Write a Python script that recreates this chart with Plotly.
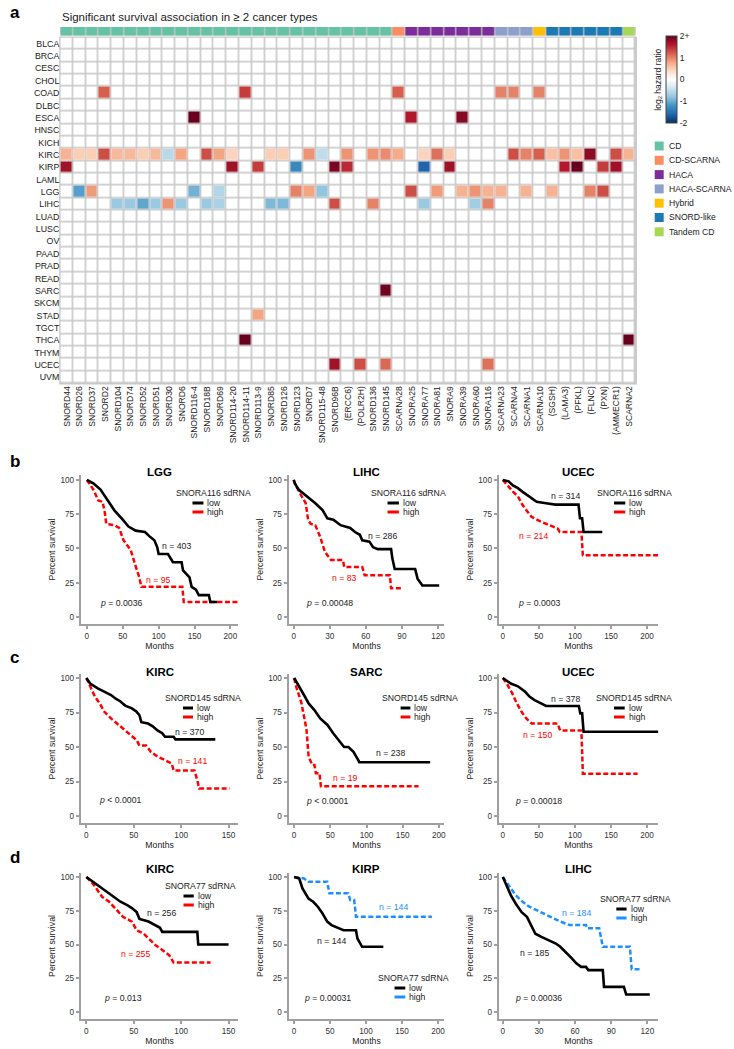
import plotly.graph_objects as go

W, H = 734, 1049
FONT = "Liberation Sans, Arial, sans-serif"
RED = "#ff0000"
BLUE = "#1e8fff"

# ---------------- heatmap data ----------------
cancers = ["BLCA", "BRCA", "CESC", "CHOL", "COAD", "DLBC", "ESCA", "HNSC", "KICH", "KIRC",
           "KIRP", "LAML", "LGG", "LIHC", "LUAD", "LUSC", "OV", "PAAD", "PRAD", "READ",
           "SARC", "SKCM", "STAD", "TGCT", "THCA", "THYM", "UCEC", "UVM"]
genes = ["SNORD44", "SNORD26", "SNORD37", "SNORD2", "SNORD104", "SNORD74", "SNORD52", "SNORD51",
         "SNORD30", "SNORD6", "SNORD116-4", "SNORD18B", "SNORD69", "SNORD114-20", "SNORD114-11",
         "SNORD113-9", "SNORD85", "SNORD126", "SNORD123", "SNORD7", "SNORD115-48", "SNORD96B",
         "(ERCC6)", "(POLR2H)", "SNORD136", "SNORD145", "SCARNA28", "SNORA25", "SNORA77", "SNORA81",
         "SNORA9", "SNORA39", "SNORA60", "SNORA116", "SCARNA23", "SCARNA4", "SCARNA1", "SCARNA10",
         "(SGSH)", "(LAMA3)", "(PFKL)", "(FLNC)", "(PXN)", "(AMMECR1)", "SCARNA2"]
gene_class = ["CD", "CD", "CD", "CD", "CD", "CD", "CD", "CD", "CD", "CD", "CD", "CD", "CD", "CD",
              "CD", "CD", "CD", "CD", "CD", "CD", "CD", "CD", "CD", "CD", "CD", "CD",
              "CD-SCARNA", "HACA", "HACA", "HACA", "HACA", "HACA", "HACA", "HACA",
              "HACA-SCARNA", "HACA-SCARNA", "HACA-SCARNA", "Hybrid",
              "SNORD-like", "SNORD-like", "SNORD-like", "SNORD-like", "SNORD-like", "SNORD-like",
              "Tandem CD"]
class_names = ["CD", "CD-SCARNA", "HACA", "HACA-SCARNA", "Hybrid", "SNORD-like", "Tandem CD"]
class_colors = ["#66c2a5", "#fc8d62", "#7d2c9c", "#8da0cb", "#ffc000", "#1b7ab3", "#a6d854"]

hit_cancer = (["COAD"] * 6 + ["ESCA"] * 3 + ["KIRC"] * 33 + ["KIRP"] * 12 + ["LGG"] * 17 +
              ["LIHC"] * 15 + ["SARC", "STAD", "THCA", "THCA"] + ["UCEC"] * 4)
hit_gene = [
    # COAD
    "SNORD2", "SNORD114-11", "SCARNA28", "SCARNA23", "SCARNA4", "SCARNA10",
    # ESCA
    "SNORD116-4", "SNORA25", "SNORA39",
    # KIRC
    "SNORD44", "SNORD26", "SNORD37", "SNORD2", "SNORD104", "SNORD74", "SNORD52", "SNORD51",
    "SNORD30", "SNORD6", "SNORD18B", "SNORD69", "SNORD114-20", "SNORD85", "SNORD126", "SNORD7",
    "SNORD115-48", "(ERCC6)", "SNORD136", "SNORD145", "SCARNA28", "SNORA77", "SNORA81", "SNORA9",
    "SCARNA4", "SCARNA1", "SCARNA10", "(SGSH)", "(LAMA3)", "(PFKL)", "(FLNC)", "(AMMECR1)", "SCARNA2",
    # KIRP
    "SNORD44", "SNORD114-20", "SNORD113-9", "SNORD123", "SNORD96B", "(ERCC6)", "SNORA77", "SNORA9",
    "(LAMA3)", "(PFKL)", "(PXN)", "(AMMECR1)",
    # LGG
    "SNORD26", "SNORD37", "SNORD116-4", "SNORD69", "SNORD123", "SNORD7", "SNORD115-48", "SNORA25",
    "SNORA81", "SNORA39", "SNORA60", "SNORA116", "SCARNA23", "SCARNA1", "(SGSH)", "(FLNC)", "(PXN)",
    # LIHC
    "SNORD104", "SNORD74", "SNORD52", "SNORD51", "SNORD30", "SNORD6", "SNORD18B", "SNORD69",
    "SNORD85", "SNORD126", "SNORD96B", "SNORD136", "SNORA77", "SNORA60", "SNORA116",
    # SARC, STAD, THCA
    "SNORD145", "SNORD113-9", "SNORD114-11", "SCARNA2",
    # UCEC
    "SNORD96B", "(POLR2H)", "SNORD145", "SNORA116"]
hit_log2hr = [
    1.2, 1.4, 1.2, 1.0, 1.0, 1.0,
    2.0, 1.6, 1.85,
    0.7, 0.5, 0.5, 1.3, 0.65, 0.65, 0.5, 0.65, -0.55, 0.8, 1.3, 0.8, 0.45, 0.5, 0.5, 0.9,
    -0.5, 0.9, 0.9, 0.95, 0.75, 0.45, 1.1, 0.5, 1.3, 1.0, 1.2, 0.6, 0.9, 0.6, 1.8, 1.3, 0.7,
    1.7, 1.7, 1.4, -1.3, 1.9, 1.5, -1.6, 1.7, 1.6, 2.0, 1.4, 1.7,
    -1.1, 0.85, -0.95, -0.6, 1.0, 0.8, -0.8, 1.3, 0.85, 0.7, 0.9, 0.7, 0.7, 0.7, 0.7, 1.0, 1.3,
    -0.75, -0.75, -1.05, -0.75, 0.9, -0.75, -0.75, -0.65, -0.9, -0.9, 1.3, 1.0, -0.75, -0.7, 1.0,
    1.95, 0.8, 2.0, 2.0,
    1.7, 1.3, 1.15, 1.1]

# ---------------- Kaplan-Meier data (months, percent survival) ----------------
b1_low_t = [0, 9, 19, 29, 38, 50, 58, 68, 81, 87, 94, 98, 100, 113, 117, 120, 132, 134, 143, 146, 152, 156, 170, 172, 182]
b1_low_s = [100, 97.5, 93, 85, 78, 71, 66, 63, 62, 59, 56, 51, 46, 46, 43, 40, 40, 34, 29, 22, 20, 16, 16, 11, 11]
b1_high_t = [0, 9, 16, 22, 25, 27, 38, 45, 51, 58, 61, 68, 73, 76, 133, 135, 211]
b1_high_s = [100, 93, 85, 84, 76, 68, 67, 65, 56, 51, 49, 37, 29, 22, 22, 11, 11]

b2_low_t = [0, 1, 4, 10, 18, 24, 28, 33, 39, 47, 51, 55, 57, 63, 66, 70, 81, 82, 84, 101, 103, 107, 121]
b2_low_s = [100, 97.5, 93, 89, 83, 78, 72, 71, 67, 65, 62, 60, 56, 55, 51, 49.5, 49.5, 43, 35, 35, 28, 23, 23]
b2_high_t = [0, 1, 6, 10, 12, 14, 18, 22, 26, 30, 31, 41, 42, 57, 59, 80, 81, 91]
b2_high_s = [100, 97.5, 89, 83, 71, 68, 67, 58.5, 47.5, 43, 41.5, 41.5, 36.5, 36.5, 30.5, 30.5, 21, 21]

b3_low_t = [0, 8, 14, 21, 27, 34, 40, 47, 60, 73, 105, 107, 110, 112, 138]
b3_low_s = [100, 99, 96, 94, 91.5, 89, 86.5, 84, 83, 82, 82, 72, 72, 62, 62]
b3_high_t = [0, 8, 14, 21, 27, 34, 40, 53, 66, 76, 79, 109, 111, 216]
b3_high_s = [100, 95, 91.5, 88, 82, 77, 73, 69.5, 67, 64.6, 62, 62, 45, 45]

c1_low_t = [0, 4, 12, 19, 26, 31, 36, 41, 48, 53, 56, 58, 65, 70, 75, 80, 83, 92, 94, 136]
c1_low_s = [100, 96, 92.5, 90, 87.7, 85, 83, 80, 78, 75.5, 73, 68, 67, 65, 62, 60, 57.4, 57.4, 55.5, 55.5]
c1_high_t = [0, 4, 9, 14, 19, 26, 34, 41, 46, 53, 56, 63, 68, 75, 83, 90, 92, 114, 117, 119, 151]
c1_high_s = [100, 94, 86.5, 81.6, 75.5, 70.7, 66, 62, 58.6, 55, 51, 51, 46.5, 43, 40.5, 38, 33, 33, 25.8, 20, 20]

c2_low_t = [0, 7, 13.6, 20, 28, 36, 46, 54, 62, 69, 75, 82, 88, 90, 188]
c2_low_s = [100, 94, 87.7, 81.6, 76.8, 70.7, 66, 60, 55, 50, 50, 46.5, 41, 39, 39]
c2_high_t = [0, 2, 10, 17, 20, 25, 28, 30, 35, 37, 172]
c2_high_s = [100, 95, 82, 63, 43, 37, 37, 31, 31, 21.5, 21.5]

c3_low_t = [0, 11, 21, 31, 37, 44, 53, 60, 105.5, 107.5, 110, 112, 216]
c3_low_s = [100, 96, 94, 90, 86.5, 84, 81.6, 79.7, 79.7, 74.4, 74.4, 61, 61]
c3_high_t = [0, 6.5, 13, 19.5, 26, 32.6, 40, 76, 79.5, 109, 111, 187]
c3_high_s = [100, 95, 89, 81.6, 75.5, 70.7, 67, 67, 62, 62, 30.7, 30.7]

d1_low_t = [0, 7, 14, 21.5, 29, 36, 43.5, 48, 53, 56, 65.5, 73, 77.7, 80, 117, 118, 150]
d1_low_s = [100, 96.5, 93, 89, 85.4, 81.7, 79, 77, 74, 69, 67, 64.4, 62.4, 59.4, 59.4, 50, 50]
d1_high_t = [0, 7, 12, 16.6, 24, 29, 33.7, 38.6, 48, 53, 60.6, 68, 73, 80, 87.4, 92, 131]
d1_high_s = [100, 95, 90, 85.4, 81.7, 78, 74, 70.5, 67, 60.6, 58, 53, 49.5, 46, 42, 36.6, 36.6]

d2_low_t = [0, 7, 11.6, 20, 26.5, 33, 39.5, 46, 52, 68.6, 86, 88, 94.5, 124]
d2_low_s = [100, 99, 91.6, 84, 81.7, 78, 73, 67, 64.4, 60.6, 60.6, 54.5, 48.3, 48.3]
d2_high_t = [0, 13.6, 20, 46, 49, 75, 78, 83.5, 86, 191.5]
d2_high_s = [100, 99, 96.5, 96.5, 88, 88, 83, 83, 70.5, 70.5]

d3_low_t = [0, 2.7, 6.6, 10.6, 15.6, 20, 23.5, 27, 32, 38, 44, 47.7, 53.6, 57.5, 61, 65, 69, 71, 83, 84, 100.5, 102.4, 122]
d3_low_s = [100, 94, 86.6, 80.4, 74, 70.5, 64.4, 58, 55.7, 53, 50.7, 48.3, 43.3, 39.6, 36, 33.4, 33.4, 31, 31, 18.6, 18.6, 13, 13]
d3_high_t = [0, 2.7, 6.6, 10.6, 16.4, 22, 28, 34, 40, 47.7, 55.5, 69, 70, 80, 83, 105.5, 107, 114]
d3_high_s = [100, 96.5, 91.6, 86.6, 81.7, 78, 75.5, 73, 70.5, 67, 64.4, 64.4, 62, 62, 48.3, 48.3, 31.7, 31.7]

n_low = ["n = 403", "n = 286", "n = 314", "n = 370", "n = 238", "n = 378", "n = 256", "n = 144", "n = 185"]
n_high = ["n = 95", "n = 83", "n = 214", "n = 141", "n = 19", "n = 150", "n = 255", "n = 144", "n = 184"]
p_text = ["= 0.0036", "= 0.00048", "= 0.0003", "< 0.0001", "< 0.0001", "= 0.00018", "= 0.013", "= 0.00031", "= 0.00036"]
panel_titles = ["LGG", "LIHC", "UCEC", "KIRC", "SARC", "UCEC", "KIRC", "KIRP", "LIHC"]
legend_titles = ["SNORA116 sdRNA"] * 3 + ["SNORD145 sdRNA"] * 3 + ["SNORA77 sdRNA"] * 3


def px(x):
    return x / W


def py(y):
    return 1 - y / H


fig = go.Figure()
annotations = []
shapes = []
layout = {}

# ---------------- heatmap ----------------
z = [[None] * len(genes) for _ in cancers]
for c, g, v in zip(hit_cancer, hit_gene, hit_log2hr):
    z[cancers.index(c)][genes.index(g)] = v
gx = list(range(len(genes)))
gy = list(range(len(cancers)))
rdbu = [[0, "#053061"], [0.1, "#2166ac"], [0.2, "#4393c3"], [0.3, "#92c5de"], [0.4, "#d1e5f0"],
        [0.5, "#ffffff"], [0.6, "#fddbc7"], [0.7, "#f4a582"], [0.8, "#d6604d"], [0.9, "#b2182b"],
        [1, "#67001f"]]
fig.add_trace(go.Heatmap(x=gx, y=gy, z=[[0] * len(genes) for _ in cancers],
                         colorscale=[[0, "white"], [1, "white"]], showscale=False,
                         xgap=1.6, ygap=1.6, hoverinfo="skip", xaxis="x", yaxis="y"))
fig.add_trace(go.Heatmap(
    x=gx, y=gy, z=z, zmin=-2, zmax=2, colorscale=rdbu, xgap=1.6, ygap=1.6,
    xaxis="x", yaxis="y", hoverongaps=False,
    colorbar=dict(x=px(668), xanchor="left", y=py(79.5), yanchor="middle",
                  len=87, lenmode="pixels", thickness=11, thicknessmode="pixels",
                  tickvals=[-2, -1, 0, 1, 2], ticktext=["-2", "-1", "0", "1", "2+"],
                  tickfont=dict(size=8.5, family=FONT, color="#222"), ticks="",
                  outlinewidth=1, outlinecolor="#444", xpad=0, ypad=0)))
fig.add_trace(go.Heatmap(
    x=gx, y=[0], z=[[class_names.index(c) for c in gene_class]], zmin=0, zmax=len(class_names) - 1,
    colorscale=[[i / (len(class_names) - 1), col] for i, col in enumerate(class_colors)],
    showscale=False, xgap=1.2, ygap=0, hoverinfo="skip", xaxis="x2", yaxis="y2"))

hm_x = [px(60.5), px(637.5)]
layout["xaxis"] = dict(domain=hm_x, range=[-0.5, len(genes) - 0.5], tickvals=gx, ticktext=genes,
                       tickangle=-90, tickfont=dict(size=8.6, family=FONT, color="#222"),
                       showgrid=False, zeroline=False, showline=False, ticks="", anchor="y")
layout["yaxis"] = dict(domain=[py(383.5), py(37.5)], range=[len(cancers) - 0.5, -0.5], tickvals=gy,
                       ticktext=cancers, tickfont=dict(size=8.8, family=FONT, color="#222"),
                       showgrid=False, zeroline=False, showline=False, ticks="", anchor="x")
layout["xaxis2"] = dict(domain=hm_x, range=[-0.5, len(genes) - 0.5], showticklabels=False,
                        showgrid=False, zeroline=False, showline=False, ticks="", anchor="y2")
layout["yaxis2"] = dict(domain=[py(35.5), py(27)], range=[-0.5, 0.5], showticklabels=False,
                        showgrid=False, zeroline=False, showline=False, ticks="", anchor="x2")
shapes.append(dict(type="rect", xref="x domain", yref="y domain", x0=-0.002, x1=1.002, y0=-0.003,
                   y1=1.003, fillcolor="#c8c8c8", line=dict(width=0), layer="below"))
shapes.append(dict(type="rect", xref="x2 domain", yref="y2 domain", x0=0, x1=1, y0=0, y1=1,
                   fillcolor="#c8c8c8", line=dict(width=0), layer="below"))

annotations.append(dict(x=px(60), y=py(17), xref="paper", yref="paper", xanchor="left",
                        yanchor="middle", showarrow=False,
                        text="Significant survival association in \u2265 2 cancer types",
                        font=dict(size=11.5, family=FONT, color="#222")))
annotations.append(dict(x=px(660), y=py(79.5), xref="paper", yref="paper", xanchor="center",
                        yanchor="middle", showarrow=False, textangle=-90,
                        text="log<sub>2</sub> hazard ratio", font=dict(size=8.5, family=FONT, color="#222")))
for i, (nm, col) in enumerate(zip(class_names, class_colors)):
    yc = 146 + i * 14.3
    shapes.append(dict(type="rect", xref="paper", yref="paper", x0=px(656.5), x1=px(665.5),
                       y0=py(yc + 4.5), y1=py(yc - 4.5), fillcolor=col, line=dict(width=0)))
    annotations.append(dict(x=px(668.5), y=py(yc), xref="paper", yref="paper", xanchor="left",
                            yanchor="middle", showarrow=False, text=nm,
                            font=dict(size=8.6, family=FONT, color="#222")))

for letter, (lx, ly) in zip("abcd", [(8, 12), (8, 462), (8, 657), (8, 857)]):
    annotations.append(dict(x=px(lx), y=py(ly), xref="paper", yref="paper", xanchor="left",
                            yanchor="middle", showarrow=False, text="<b>%s</b>" % letter,
                            font=dict(size=17, family=FONT, color="black")))

# ---------------- KM panels ----------------
curves = [(b1_low_t, b1_low_s, b1_high_t, b1_high_s), (b2_low_t, b2_low_s, b2_high_t, b2_high_s),
          (b3_low_t, b3_low_s, b3_high_t, b3_high_s), (c1_low_t, c1_low_s, c1_high_t, c1_high_s),
          (c2_low_t, c2_low_s, c2_high_t, c2_high_s), (c3_low_t, c3_low_s, c3_high_t, c3_high_s),
          (d1_low_t, d1_low_s, d1_high_t, d1_high_s), (d2_low_t, d2_low_s, d2_high_t, d2_high_s),
          (d3_low_t, d3_low_s, d3_high_t, d3_high_s)]
high_colors = [RED] * 7 + [BLUE, BLUE]

col_dom = [(81, 239), (289.3, 445.7), (500, 660)]
row_dom = [(475, 624), (674, 823), (873, 1019)]
row_yr = [[-5.1, 103.6], [-5.07, 102.9], [-5.2, 103.0]]
row_title_y = [471.5, 672, 869]
x_ranges = [[-8.5, 211.1], [-4.3, 125.4], [-5.8, 215.5], [-5.9, 160.3], [-7.8, 207.8],
            [-5.8, 215.5], [-5.9, 160.3], [-7.8, 209], [-3.5, 129]]
x_ticks = [[0, 50, 100, 150, 200], [0, 30, 60, 90, 120], [0, 50, 100, 150, 200],
           [0, 50, 100, 150], [0, 50, 100, 150, 200], [0, 50, 100, 150, 200],
           [0, 50, 100, 150], [0, 50, 100, 150, 200], [0, 30, 60, 90, 120]]
# legend: title center x, title y, low y, high y, line x0, line x1
legend_pos = [(214, 493, 503, 512, 193, 204), (409.7, 493, 503, 512, 388.6, 400),
              (635.8, 493, 503, 512, 615.7, 627), (203.7, 698, 708, 717, 183.5, 193.5),
              (421.4, 698, 708, 717, 401.7, 411.5), (635.3, 698, 708, 717, 615.7, 626.4),
              (201.3, 886, 896, 905, 184, 194.3), (414.3, 978, 988, 997, 395.6, 406.4),
              (636.8, 899, 909, 918, 618, 628.3)]
# label positions in data units: n low, n high, p
label_pos = [((125, 52), (100, 27), (48, 10)), ((74, 59), (42, 28.5), (30, 10)),
             ((87, 88), (42, 59), (50, 10)), ((109, 61), (112, 40), (36, 11.5)),
             ((133, 45.8), (71, 27.6), (46, 11)), ((87, 85), (48, 59), (50, 11)),
             ((79, 73), (52, 43), (38.6, 10.4)), ((52, 52.5), (138, 77.5), (46, 10.4)),
             ((26, 44), (61, 73), (30, 10.4))]

AX = "#a0a0a0"
TXT = 8.7
for k in range(9):
    r, c = divmod(k, 3)
    n = k + 3
    xa, ya = "x%d" % n, "y%d" % n
    lt, ls, ht, hs = curves[k]
    hc = high_colors[k]
    fig.add_trace(go.Scatter(x=ht, y=hs, mode="lines", xaxis=xa, yaxis=ya, showlegend=False,
                             line=dict(color=hc, width=2.5, dash="5px,2.5px"), hoverinfo="skip"))
    fig.add_trace(go.Scatter(x=lt, y=ls, mode="lines", xaxis=xa, yaxis=ya, showlegend=False,
                             line=dict(color="black", width=2.6), hoverinfo="skip"))
    layout["xaxis%d" % n] = dict(
        domain=[px(col_dom[c][0]), px(col_dom[c][1])], range=x_ranges[k], tickvals=x_ticks[k],
        anchor=ya, showline=True, linecolor=AX, linewidth=2, ticks="outside", ticklen=3,
        tickcolor=AX, tickwidth=1.5, showgrid=False, zeroline=False,
        tickfont=dict(size=8.2, family=FONT, color="#333"),
        title=dict(text="Months", standoff=2, font=dict(size=TXT, family=FONT, color="#222")))
    layout["yaxis%d" % n] = dict(
        domain=[py(row_dom[r][1]), py(row_dom[r][0])], range=row_yr[r], tickvals=[0, 25, 50, 75, 100],
        anchor=xa, showline=True, linecolor=AX, linewidth=2, ticks="outside", ticklen=3,
        tickcolor=AX, tickwidth=1.5, showgrid=False, zeroline=False,
        tickfont=dict(size=8.2, family=FONT, color="#333"),
        title=dict(text="Percent survival", standoff=3, font=dict(size=TXT, family=FONT, color="#222")))
    # panel title
    annotations.append(dict(x=px((col_dom[c][0] + col_dom[c][1]) / 2), y=py(row_title_y[r]),
                            xref="paper", yref="paper", xanchor="center", yanchor="middle",
                            showarrow=False, text="<b>%s</b>" % panel_titles[k],
                            font=dict(size=11.5, family=FONT, color="black")))
    # legend
    tx, tyt, tyl, tyh, lx0, lx1 = legend_pos[k]
    annotations.append(dict(x=px(tx), y=py(tyt), xref="paper", yref="paper", xanchor="center",
                            yanchor="middle", showarrow=False, text=legend_titles[k],
                            font=dict(size=TXT, family=FONT, color="#222")))
    for yy, colr, lab in [(tyl, "black", "low"), (tyh, hc, "high")]:
        shapes.append(dict(type="line", xref="paper", yref="paper", x0=px(lx0), x1=px(lx1),
                           y0=py(yy), y1=py(yy), line=dict(color=colr, width=3)))
        annotations.append(dict(x=px(lx1 + 2), y=py(yy), xref="paper", yref="paper",
                                xanchor="left", yanchor="middle", showarrow=False, text=lab,
                                font=dict(size=TXT, family=FONT, color="#222")))
    # n and p labels
    (nlx, nly), (nhx, nhy), (ppx, ppy) = label_pos[k]
    annotations.append(dict(x=nlx, y=nly, xref=xa, yref=ya, showarrow=False, text=n_low[k],
                            font=dict(size=TXT, family=FONT, color="#222")))
    annotations.append(dict(x=nhx, y=nhy, xref=xa, yref=ya, showarrow=False, text=n_high[k],
                            font=dict(size=TXT, family=FONT, color=hc)))
    annotations.append(dict(x=ppx, y=ppy, xref=xa, yref=ya, showarrow=False,
                            text="<i>p</i> " + p_text[k],
                            font=dict(size=TXT, family=FONT, color="#222")))

fig.update_layout(width=W, height=H, autosize=False, margin=dict(l=0, r=0, t=0, b=0),
                  paper_bgcolor="white", plot_bgcolor="rgba(0,0,0,0)", showlegend=False,
                  annotations=annotations, shapes=shapes, font=dict(family=FONT), **layout)
fig.write_html("out.html", config={"displayModeBar": False},
               post_script="document.body.style.margin='0';document.body.style.overflow='hidden';")
